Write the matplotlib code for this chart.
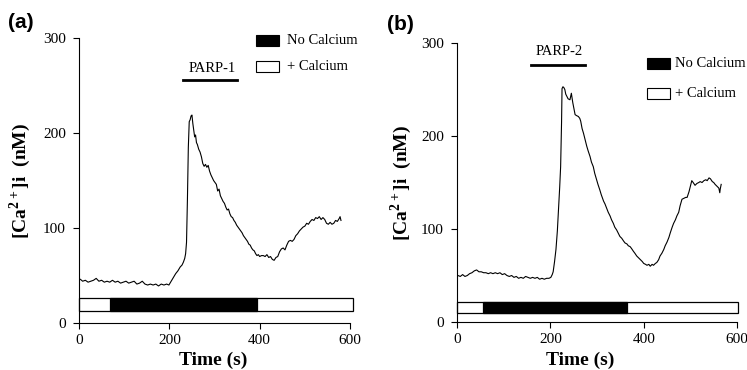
import matplotlib
matplotlib.use("Agg")
import matplotlib.pyplot as plt
from matplotlib.patches import Rectangle

plt.rcParams['font.family'] = 'Liberation Serif'
plt.rcParams['mathtext.fontset'] = 'custom'
plt.rcParams['mathtext.rm'] = 'Liberation Serif'
plt.rcParams['mathtext.bf'] = 'Liberation Serif:bold'

# --- panel (a): PARP-1 ---
t_a = [3, 8, 14, 20, 26, 32, 38, 44, 50, 56, 62, 68, 74, 80, 86, 92, 98, 104, 110, 116,
       122, 128, 134, 140, 146, 152, 158, 164, 170, 176, 182, 188, 194, 199, 204, 209, 214,
       219, 224, 228, 231, 234, 236, 238, 240, 242, 244, 246, 248, 250, 252, 254, 256, 258,
       260, 262, 265, 268, 271, 274, 277, 280, 283, 286, 289, 292, 295, 298, 301, 304, 307,
       310, 313, 316, 319, 322, 325, 328, 331, 334, 337, 340, 343, 346, 349, 352, 355, 358,
       361, 364, 367, 370, 373, 376, 379, 382, 385, 388, 391, 394, 397, 400, 404, 408, 412,
       416, 420, 424, 428, 432, 436, 440, 444, 448, 452, 456, 460, 464, 468, 472, 476, 480,
       484, 488, 492, 496, 500, 504, 508, 512, 516, 520, 524, 528, 532, 536, 540, 544, 548,
       552, 556, 560, 564, 568, 572, 576, 578, 580]
ca_a = [46, 44, 45, 43, 44, 45, 47, 44, 45, 43, 44, 43, 45, 43, 44, 42, 43, 44, 42, 43,
        44, 41, 42, 44, 41, 40, 41, 40, 41, 39, 41, 40, 41, 40, 44, 48, 52,
        55, 59, 61, 64, 68, 73, 85, 130, 185, 212, 214, 218, 219, 210, 203, 196, 198,
        190, 188, 183, 180, 175, 168, 165, 167, 164, 166, 160, 156, 153, 150, 148, 146, 139,
        141, 134, 131, 128, 126, 122, 119, 120, 115, 112, 111, 108, 106, 103, 101, 99, 97,
        95, 92, 90, 88, 86, 83, 82, 79, 77, 76, 73, 71, 72, 70, 71, 71, 70,
        72, 69, 70, 67, 66, 69, 70, 75, 78, 79, 77, 82, 86, 87, 86, 88, 92,
        94, 97, 99, 101, 102, 105, 104, 107, 109, 108, 111, 110, 112, 109, 111, 109, 105,
        104, 106, 104, 105, 108, 107, 110, 112, 108]

# --- panel (b): PARP-2 ---
t_b = [2, 7, 12, 17, 22, 27, 32, 37, 42, 47, 52, 57, 62, 67, 72, 77, 82, 87, 92, 97,
       102, 107, 112, 117, 122, 127, 132, 137, 142, 147, 152, 157, 162, 167, 172, 177, 182,
       187, 192, 197, 201, 204, 206, 209, 212, 215, 217, 220, 222, 224, 225, 227, 229, 231,
       233, 235, 238, 242, 245, 248, 251, 253, 256, 260, 263, 265, 268, 271, 274, 278, 281,
       285, 288, 292, 295, 299, 302, 306, 309, 314, 317, 321, 324, 328, 331, 335, 338, 342,
       345, 349, 353, 357, 360, 364, 367, 371, 374, 378, 381, 385, 389, 393, 397, 400, 404,
       407, 411, 414, 418, 421, 425, 428, 432, 435, 439, 443, 446, 450, 454, 457, 461, 464,
       468, 471, 475, 478, 482, 486, 490, 493, 497, 500, 503, 506, 510, 514, 518, 521, 525,
       529, 533, 536, 540, 543, 547, 550, 553, 557, 561, 563, 564, 566]
ca_b = [50, 49, 51, 49, 50, 52, 53, 55, 56, 54, 54, 53, 53, 52, 53, 52, 53, 52, 53, 51,
        52, 50, 49, 50, 48, 49, 47, 48, 47, 49, 48, 47, 48, 47, 48, 46, 47,
        46, 47, 47, 48, 51, 54, 65, 78, 98, 117, 145, 167, 215, 251, 253, 252, 250,
        245, 243, 240, 239, 246, 236, 228, 223, 222, 221, 219, 216, 208, 203, 197, 189, 184,
        178, 172, 167, 160, 153, 148, 142, 137, 130, 127, 122, 118, 114, 110, 106, 102, 99,
        96, 92, 90, 87, 85, 84, 82, 81, 79, 76, 74, 71, 69, 67, 65, 63, 62,
        61, 62, 60, 62, 61, 63, 64, 67, 71, 74, 78, 82, 86, 91, 96, 102, 106,
        110, 114, 118, 125, 132, 133, 134, 134, 140, 146, 152, 150, 147, 149, 150, 151, 150,
        152, 153, 152, 155, 154, 151, 150, 148, 146, 144, 139, 143, 148]

# solution bar (start, end) and "no calcium" period
bar_a = (1, 606)
nocal_a = (69, 393)
bar_b = (0, 601)
nocal_b = (56, 364)
parp_a = (230, 350)
parp_b = (159, 274)

fig = plt.figure(figsize=(7.47, 3.70), dpi=100)
ax_a = fig.add_axes([0.1058, 0.127, 0.3688, 0.770])
ax_b = fig.add_axes([0.6118, 0.1297, 0.378, 0.754])


def estilo(ax, xmax):
    ax.set_xlim(0, xmax)
    ax.set_ylim(0, 300)
    ax.spines['top'].set_visible(False)
    ax.spines['right'].set_visible(False)
    ax.spines['left'].set_bounds(0, 300)
    ax.spines['bottom'].set_bounds(0, 600)
    ax.set_xticks([0, 200, 400, 600])
    ax.set_yticks([0, 100, 200, 300])
    ax.tick_params(direction='out', length=4, width=0.8, labelsize=11)
    ax.tick_params(axis='x', pad=4)
    ax.tick_params(axis='y', pad=5.5)
    ax.set_xlabel('Time (s)', fontsize=14, fontweight='bold')
    ax.set_ylabel(r'[Ca$^{\mathbf{2+}}$]i  (nM)', fontsize=14, fontweight='bold')


def barra_calcio(ax, total, nocal, y0, h):
    ax.add_patch(Rectangle((total[0], y0), total[1] - total[0], h, facecolor='white',
                           edgecolor='black', lw=0.9, clip_on=False, zorder=2))
    ax.add_patch(Rectangle((nocal[0], y0), nocal[1] - nocal[0], h, facecolor='black',
                           edgecolor='black', lw=0.9, clip_on=False, zorder=3))


def leyenda(ax, x0, w, yb, yw, h, xt):
    ax.add_patch(Rectangle((x0, yb), w, h, facecolor='black', edgecolor='black',
                           lw=0.8, clip_on=False))
    ax.add_patch(Rectangle((x0, yw), w, h, facecolor='white', edgecolor='black',
                           lw=0.8, clip_on=False))
    ax.text(xt, yb + h / 2, 'No Calcium', fontsize=10.5, va='center', ha='left')
    ax.text(xt, yw + h / 2, '+ Calcium', fontsize=10.5, va='center', ha='left')


# (a)
estilo(ax_a, 610)
ax_a.plot(t_a, ca_a, color='black', lw=0.8)
barra_calcio(ax_a, bar_a, nocal_a, 13, 13)
ax_a.plot(parp_a, [256, 256], color='black', lw=2)
ax_a.text(sum(parp_a) / 2 + 5, 268, 'PARP-1', fontsize=10.5, ha='center', va='center')
leyenda(ax_a, 392, 51, 291.5, 264, 11.5, 460)
ax_a.xaxis.set_label_coords(0.486, -0.10)
ax_a.yaxis.set_label_coords(-0.167, 0.5)

# (b)
estilo(ax_b, 605)
ax_b.plot(t_b, ca_b, color='black', lw=0.8)
barra_calcio(ax_b, bar_b, nocal_b, 10, 11.5)
ax_b.plot(parp_b, [276, 276], color='black', lw=2)
ax_b.text(sum(parp_b) / 2 + 3, 291, 'PARP-2', fontsize=10.5, ha='center', va='center')
leyenda(ax_b, 407, 49, 272.5, 240, 11.5, 467)
ax_b.xaxis.set_label_coords(0.436, -0.105)
ax_b.yaxis.set_label_coords(-0.152, 0.5)

fig.text(8 / 747, 1 - 22 / 370, '(a)', fontsize=15, fontweight='bold',
         family='Liberation Sans', va='center', ha='left')
fig.text(387 / 747, 1 - 25 / 370, '(b)', fontsize=15, fontweight='bold',
         family='Liberation Sans', va='center', ha='left')

fig.savefig('out.png', dpi=100)
